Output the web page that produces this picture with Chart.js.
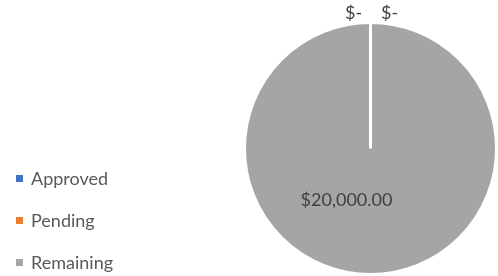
<!DOCTYPE html>
<html>
<head>
<meta charset="utf-8">
<script src="https://cdn.jsdelivr.net/npm/chart.js@4"></script>
<style>
    html, body { margin: 0; padding: 0; background: #fff; }
    #wrap { position: relative; width: 498px; height: 276px; overflow: hidden; }
    #legend { position: absolute; left: 16px; top: 157px; font-family: Lato, sans-serif; font-size: 18px; color: #595959; }
    .legend-item { display: flex; align-items: center; height: 42px; }
    .legend-box { width: 7px; height: 7px; margin-right: 8px; }
</style>
</head>
<body>
<div id="wrap">
    <canvas id="pieChart" width="498" height="276"></canvas>
    <div id="legend"></div>
</div>
<script>
const labels = ['Approved', 'Pending', 'Remaining'];
const amounts = [0, 0, 20000];
const colors = ['#4472C4', '#ED7D31', '#A5A5A5'];

function formatMoney(value) {
    if (value === 0) return '$-';
    return '$' + value.toLocaleString('en-US', { minimumFractionDigits: 2, maximumFractionDigits: 2 });
}

// Legend built from the same arrays
const legend = document.getElementById('legend');
labels.forEach((label, i) => {
    legend.innerHTML += `
        <div class="legend-item">
            <span class="legend-box" style="background:${colors[i]}"></span>
            <span>${label}</span>
        </div>`;
});

// Draw the value labels (zero values sit outside at the top, like Excel does)
const valueLabels = {
    id: 'valueLabels',
    afterDatasetsDraw(chart) {
        const ctx = chart.ctx;
        const meta = chart.getDatasetMeta(0);
        let zeroCount = 0;
        ctx.save();
        ctx.font = '18px Lato, sans-serif';
        ctx.fillStyle = '#404040';
        ctx.textAlign = 'center';
        ctx.textBaseline = 'middle';
        meta.data.forEach((arc, i) => {
            const value = amounts[i];
            const p = arc.getProps(['x', 'y', 'startAngle', 'endAngle', 'outerRadius']);
            if (value === 0) {
                const side = zeroCount === 0 ? -17 : 19;
                zeroCount++;
                const x = p.x + Math.cos(p.startAngle) * p.outerRadius + side;
                const y = p.y + Math.sin(p.startAngle) * p.outerRadius - 9;
                ctx.fillText(formatMoney(value), x, y);
            } else {
                const mid = (p.startAngle + p.endAngle) / 2;
                const x = p.x + Math.cos(mid) * p.outerRadius * 0.41 - 24;
                const y = p.y + Math.sin(mid) * p.outerRadius * 0.41;
                ctx.fillText(formatMoney(value), x, y);
            }
        });
        ctx.restore();
    }
};

const ctx = document.getElementById('pieChart').getContext('2d');
const chart = new Chart(ctx, {
    type: 'pie',
    data: {
        labels: labels,
        datasets: [{
            data: amounts,
            backgroundColor: colors,
            borderColor: '#ffffff',
            borderWidth: 3
        }]
    },
    options: {
        responsive: false,
        animation: false,
        layout: {
            padding: { left: 243, top: 21, right: -2, bottom: -3 }
        },
        plugins: {
            legend: { display: false },
            tooltip: { enabled: false }
        }
    },
    plugins: [valueLabels]
});
</script>
</body>
</html>
